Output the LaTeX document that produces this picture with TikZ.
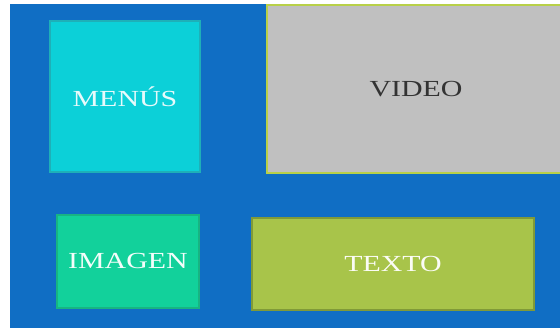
\documentclass[tikz,border=0pt]{standalone}
\usepackage{fontspec}
\setmainfont{Liberation Serif}
\usepackage{graphicx}
\usepackage{tikz}
\definecolor{fondo}{RGB}{16,110,196}
\definecolor{cian}{RGB}{12,208,216}
\definecolor{cianborde}{RGB}{30,176,184}
\definecolor{gris}{RGB}{192,192,192}
\definecolor{grisborde}{RGB}{184,208,72}
\definecolor{verde}{RGB}{18,209,155}
\definecolor{verdeborde}{RGB}{24,180,130}
\definecolor{oliva}{RGB}{168,196,74}
\definecolor{olivaborde}{RGB}{128,154,56}
\tikzstyle{caja}=      [rectangle, line width=1.5pt, inner sep=0pt, font=\fontsize{23}{26}\selectfont]
\tikzstyle{menus}=     [caja, fill=cian, draw=cianborde, text=white!90!cian]
\tikzstyle{video}=     [caja, fill=gris, draw=grisborde, text=black!80]
\tikzstyle{imagen}=    [caja, fill=verde, draw=verdeborde, text=white!95!verde]
\tikzstyle{texto}=     [caja, fill=oliva, draw=olivaborde, text=white!95!oliva]
\newcommand{\ancho}[1]{\scalebox{1.3}[1]{#1}}
\begin{document}
\begin{tikzpicture}[x=1pt,y=-1pt]
 \useasboundingbox (0,0) rectangle (560,328);
 \fill[white] (0,0) rectangle (560,328);
 \fill[fondo] (10,4) rectangle (565,333);
 
 \node[menus, minimum width=150pt, minimum height=151pt] (menus) at (125,96.5) {\ancho{MENÚS}};
 \node[video, minimum width=298pt, minimum height=168pt] (video) at (416,89) {\ancho{VIDEO}};
 \node[imagen, minimum width=142pt, minimum height=93pt] (imagen) at (128,261.5) {\ancho{IMAGEN}};
 \node[texto, minimum width=282pt, minimum height=92pt] (texto) at (393,264) {\ancho{TEXTO}};
\end{tikzpicture}
\end{document}
